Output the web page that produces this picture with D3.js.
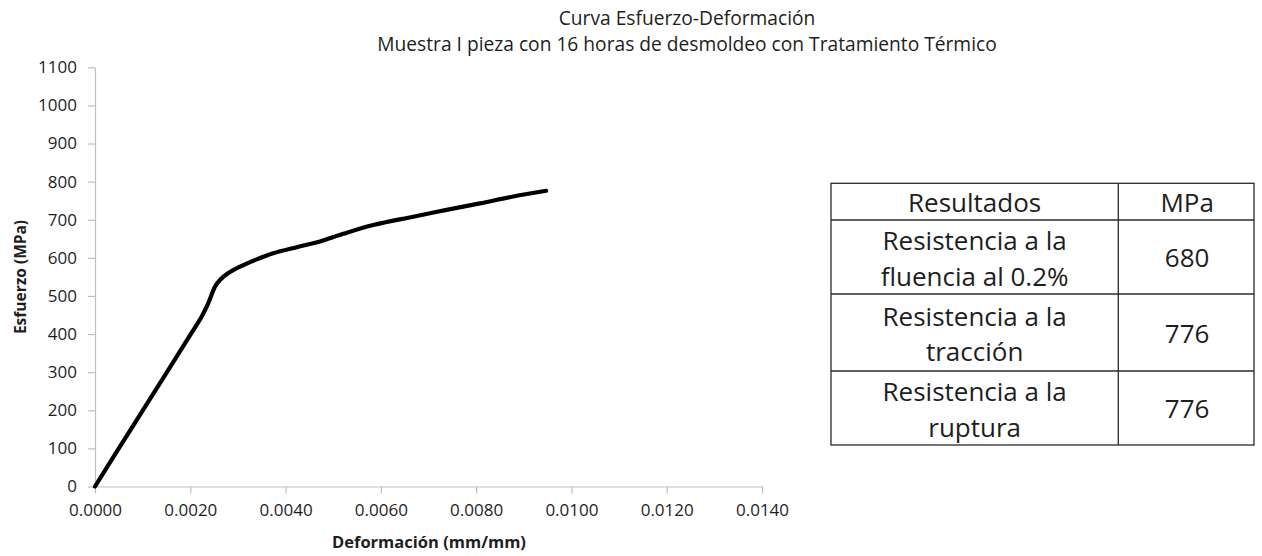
<!DOCTYPE html>
<html>
<head>
<meta charset="utf-8">
<script src="https://cdn.jsdelivr.net/npm/d3@7/dist/d3.min.js"></script>
<style>
  html, body { margin: 0; padding: 0; background: #fff; }
  svg { display: block; font-family: "Open Sans", "Noto Sans", sans-serif; }
</style>
</head>
<body>
<svg id="chart" width="1262" height="556"></svg>
<script>
// Stress–strain curve (strain in mm/mm, stress in MPa)
const strain = [0, 0.00050, 0.00100, 0.00150, 0.00200, 0.00224, 0.002378, 0.002518, 0.002623,
  0.002798, 0.003043, 0.003393, 0.003742, 0.004233, 0.004722, 0.005211, 0.005841,
  0.00668, 0.007381, 0.00808, 0.008779, 0.00947];
const stress = [0, 100, 199, 298, 398, 446, 481, 524, 542,
  560, 577, 596, 612, 628, 643, 663, 686,
  708, 726, 743, 761, 776];

const xTicks = [0, 0.002, 0.004, 0.006, 0.008, 0.010, 0.012, 0.014];
const yTicks = [0, 100, 200, 300, 400, 500, 600, 700, 800, 900, 1000, 1100];

const titleLines = ["Curva Esfuerzo-Deformación",
  "Muestra I pieza con 16 horas de desmoldeo con Tratamiento Térmico"];
const xLabel = "Deformación (mm/mm)";
const yLabel = "Esfuerzo (MPa)";

// Results table
const tableHeader = ["Resultados", "MPa"];
const resultNames = [["Resistencia a la", "fluencia al 0.2%"],
  ["Resistencia a la", "tracción"],
  ["Resistencia a la", "ruptura"]];
const resultValues = [680, 776, 776];

const svg = d3.select("#chart");
const axisColor = "#bfbfbf";
const textColor = "#1e1e1e";

const x = d3.scaleLinear().domain([0, 0.014]).range([95, 762]);
const y = d3.scaleLinear().domain([0, 1100]).range([486.5, 67.3]);

// Title
svg.append("g").selectAll("text").data(titleLines).join("text")
  .attr("x", 687)
  .attr("y", (d, i) => 25 + i * 26)
  .attr("text-anchor", "middle")
  .attr("font-size", 19.2)
  .attr("fill", textColor)
  .text(d => d);

// Axes
const xAxis = svg.append("g")
  .attr("transform", `translate(0,${y(0)})`)
  .call(d3.axisBottom(x).tickValues(xTicks).tickFormat(d3.format(".4f"))
    .tickSizeInner(7).tickSizeOuter(0).tickPadding(10));
const yAxis = svg.append("g")
  .attr("transform", `translate(${x(0)},0)`)
  .call(d3.axisLeft(y).tickValues(yTicks).tickFormat(d3.format("d"))
    .tickSizeInner(7).tickSizeOuter(0).tickPadding(11));

[xAxis, yAxis].forEach(g => {
  g.select(".domain").attr("stroke", axisColor).attr("stroke-width", 1.2);
  g.selectAll(".tick line").attr("stroke", axisColor).attr("stroke-width", 1.2);
  g.selectAll(".tick text").attr("fill", textColor)
    .attr("font-size", 17).attr("font-family", "'Open Sans', sans-serif");
});

// Axis titles
svg.append("text")
  .attr("x", 429).attr("y", 548)
  .attr("text-anchor", "middle")
  .attr("font-size", 16.5).attr("font-weight", "bold")
  .attr("fill", textColor)
  .text(xLabel);

svg.append("text")
  .attr("transform", "translate(26,277) rotate(-90)")
  .attr("text-anchor", "middle")
  .attr("font-size", 15.5).attr("font-weight", "bold")
  .attr("fill", textColor)
  .text(yLabel);

// Curve
const pts = strain.map((s, i) => [s, stress[i]]);
svg.append("path")
  .datum(pts)
  .attr("fill", "none")
  .attr("stroke", "#000")
  .attr("stroke-width", 4.2)
  .attr("stroke-linecap", "round")
  .attr("stroke-linejoin", "round")
  .attr("d", d3.line().x(d => x(d[0])).y(d => y(d[1])).curve(d3.curveCatmullRom.alpha(0.5)));

// Results table
const tbl = svg.append("g");
const colX = [831, 1118.3, 1254];
const rowY = [183.3, 220, 294, 371, 445];
const border = "#2a2a2a";

tbl.append("rect")
  .attr("x", colX[0]).attr("y", rowY[0])
  .attr("width", colX[2] - colX[0]).attr("height", rowY[4] - rowY[0])
  .attr("fill", "#fff").attr("stroke", border).attr("stroke-width", 1.3);
tbl.append("line")
  .attr("x1", colX[1]).attr("x2", colX[1]).attr("y1", rowY[0]).attr("y2", rowY[4])
  .attr("stroke", border).attr("stroke-width", 1.3);
tbl.selectAll("line.row").data(rowY.slice(1, 4)).join("line")
  .attr("class", "row")
  .attr("x1", colX[0]).attr("x2", colX[2]).attr("y1", d => d).attr("y2", d => d)
  .attr("stroke", border).attr("stroke-width", 1.3);

const c1 = (colX[0] + colX[1]) / 2;
const c2 = (colX[1] + colX[2]) / 2 + 1;
const cellFont = 26;

tbl.selectAll("text.head").data(tableHeader).join("text")
  .attr("class", "head")
  .attr("x", (d, i) => i === 0 ? c1 : c2)
  .attr("y", (rowY[0] + rowY[1]) / 2 + 10)
  .attr("text-anchor", "middle")
  .attr("font-size", cellFont).attr("fill", textColor)
  .text(d => d);

resultNames.forEach((lines, r) => {
  const mid = (rowY[r + 1] + rowY[r + 2]) / 2;
  tbl.append("g").selectAll("text").data(lines).join("text")
    .attr("x", c1)
    .attr("y", (d, i) => mid - 7 + i * 35.5)
    .attr("text-anchor", "middle")
    .attr("font-size", cellFont).attr("fill", textColor)
    .text(d => d);
  tbl.append("text")
    .attr("x", c2)
    .attr("y", mid + 10)
    .attr("text-anchor", "middle")
    .attr("font-size", cellFont).attr("fill", textColor)
    .text(resultValues[r]);
});
</script>
</body>
</html>
